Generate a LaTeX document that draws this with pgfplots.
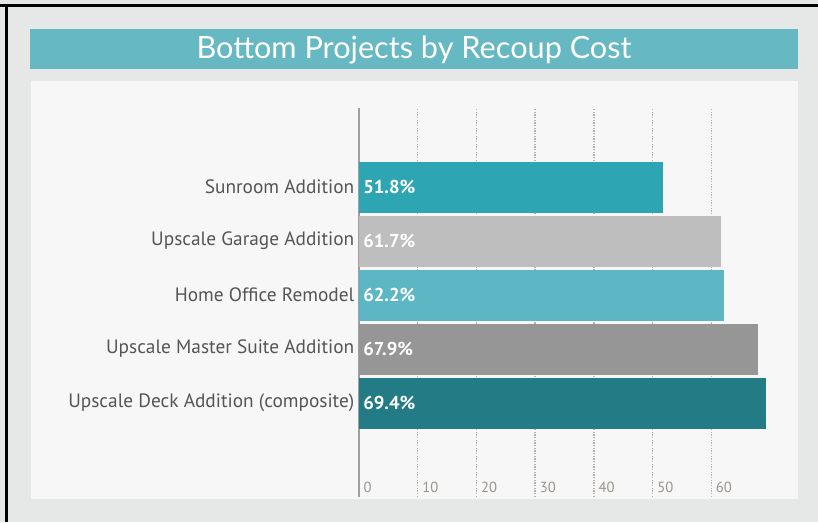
\documentclass[border=0pt]{standalone}
\usepackage{pgfplots}
\pgfplotsset{compat=1.18}
\usepackage{pgfplotstable}
\usepackage{fontspec}
\setmainfont{PT Sans}
\newfontfamily\titlefont{Lato}
\definecolor{bgc}{HTML}{E6E7E7}
\definecolor{panel}{HTML}{F7F7F7}
\definecolor{band}{HTML}{66B8C2}
\definecolor{cSun}{HTML}{2EA5B3}
\definecolor{cGar}{HTML}{BEBEBE}
\definecolor{cHome}{HTML}{5CB6C4}
\definecolor{cMaster}{HTML}{969696}
\definecolor{cDeck}{HTML}{237C85}
\definecolor{labc}{HTML}{555555}
\definecolor{tickc}{HTML}{9A948E}
\pgfplotstableread{
y v
4 51.8
3 61.7
2 62.2
1 67.9
0 69.4
}\barlabels
\begin{document}
\begin{tikzpicture}[x=0.75pt,y=-0.75pt]
\useasboundingbox (0,0) rectangle (818,522);
\fill[bgc] (0,0) rectangle (818,522);
\fill[black] (0,4) rectangle (818,7);
\fill[black] (5,4) rectangle (8,522);
\fill[panel] (31,81) rectangle (798,499);
\fill[band] (30,29) rectangle (798,69);
\node[text=white, font=\titlefont\fontsize{23}{27}\selectfont] at (414,50) {Bottom Projects by Recoup Cost};
\begin{axis}[
  at={(269.25pt,-372.75pt)}, anchor=south west,
  width=308.25pt, height=291.75pt, scale only axis,
  xmin=0, xmax=70, ymin=-1.74, ymax=5.463,
  xtick={0,10,...,60}, ytick={0,...,4},
  /pgf/number format/assume math mode=true,
  yticklabels={Upscale Deck Addition (composite), Upscale Master Suite Addition, Home Office Remodel, Upscale Garage Addition, Sunroom Addition},
  xmajorgrids,
  major grid style={draw=gray!60, line width=1pt, densely dotted},
  extra x ticks={0}, extra x tick labels={},
  extra x tick style={grid=major, major grid style={solid, draw=gray!75, line width=0.9pt}},
  axis line style={draw=none}, major tick length=0pt,
  xticklabel style={anchor=south west, font=\fontsize{11}{13}\selectfont, text=tickc, xshift=0pt},
  yticklabel style={font=\fontsize{14.5}{17}\selectfont, text=labc},
  clip=false,
]
\addplot[xbar, bar width=0.944, bar shift=0pt, fill=cSun, draw=none] coordinates {(51.8,4)};
\addplot[xbar, bar width=0.944, bar shift=0pt, fill=cGar, draw=none] coordinates {(61.7,3)};
\addplot[xbar, bar width=0.944, bar shift=0pt, fill=cHome, draw=none] coordinates {(62.2,2)};
\addplot[xbar, bar width=0.944, bar shift=0pt, fill=cMaster, draw=none] coordinates {(67.9,1)};
\addplot[xbar, bar width=0.944, bar shift=0pt, fill=cDeck, draw=none] coordinates {(69.4,0)};
\addplot[draw=none, mark=none, point meta=explicit,
  nodes near coords={\pgfmathprintnumber[fixed,precision=1,fixed zerofill,assume math mode=true]{\pgfplotspointmeta}\%},
  nodes near coords style={anchor=west, text=white, font=\bfseries\fontsize{14}{16}\selectfont, inner sep=3pt}]
  table[x expr=0, y=y, meta=v] {\barlabels};
\end{axis}
\end{tikzpicture}
\end{document}
